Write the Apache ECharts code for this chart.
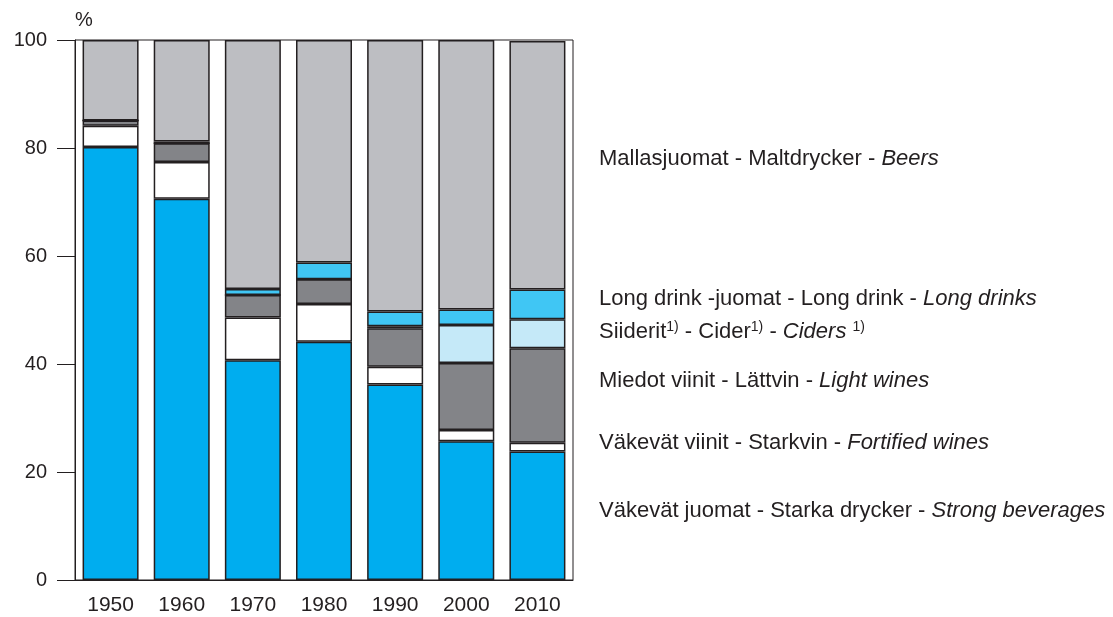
<!DOCTYPE html>
<html>
<head>
<meta charset="utf-8">
<script src="https://cdn.jsdelivr.net/npm/echarts@6/dist/echarts.min.js"></script>
<style>
html, body { margin: 0; padding: 0; background: #fff; }
#main { width: 1113px; height: 617px; }
</style>
</head>
<body>
<div id="main"></div>
<script>
var years = ['1950', '1960', '1970', '1980', '1990', '2000', '2010'];
var strong = [80.2, 70.6, 40.7, 44.1, 36.2, 25.7, 23.8];
var fortified = [3.9, 6.8, 7.9, 7.0, 3.3, 2.1, 1.6];
var lightWines = [1.0, 3.5, 4.2, 4.6, 7.1, 12.4, 17.5];
var ciders = [0, 0, 0, 0, 0.4, 7.0, 5.4];
var longDrinks = [0, 0.3, 1.1, 3.1, 2.7, 2.9, 5.5];
var beers = [14.9, 18.8, 46.1, 41.2, 50.3, 49.9, 46.0];
var yTicks = [0, 20, 40, 60, 80, 100];

var chart = echarts.init(document.getElementById('main'));

var font = 'Liberation Sans, Arial, Helvetica, sans-serif';
var edge = '#231F20';

function bar(name, data, color) {
    return {
        name: name,
        type: 'bar',
        stack: 'all',
        barWidth: 56,
        data: data,
        itemStyle: {
            color: color,
            borderColor: edge,
            borderWidth: 1.5
        }
    };
}

var labelStyle = {
    fontFamily: font,
    fontSize: 22,
    fill: '#231F20'
};
var rich = {
    i: { fontFamily: font, fontSize: 22, fontStyle: 'italic', color: '#231F20' },
    sup: { fontFamily: font, fontSize: 14, color: '#231F20', verticalAlign: 'top', padding: [0, 0, 9, 0] }
};

function legendText(y, text) {
    return {
        type: 'text',
        left: 599,
        top: y - 11,
        style: Object.assign({ text: text, rich: rich }, labelStyle)
    };
}

var option = {
    animation: false,
    grid: {
        left: 75,
        top: 40,
        right: 540,
        bottom: 37,
        show: true,
        borderColor: edge,
        borderWidth: 1
    },
    xAxis: {
        type: 'category',
        data: years,
        axisLine: { lineStyle: { color: edge, width: 1 } },
        axisTick: { show: false },
        axisLabel: { color: '#231F20', fontFamily: font, fontSize: 21, margin: 15 }
    },
    yAxis: {
        type: 'value',
        min: 0,
        max: 100,
        interval: 20,
        splitLine: { show: false },
        axisLine: { show: true, lineStyle: { color: edge, width: 1 } },
        axisTick: { show: true, length: 18, lineStyle: { color: edge, width: 1 } },
        axisLabel: {
            color: '#231F20', fontFamily: font, fontSize: 20, margin: 28,
            formatter: function (v) { return yTicks.indexOf(v) >= 0 ? String(v) : ''; }
        }
    },
    series: [
        bar('Strong beverages', strong, '#00ADEF'),
        bar('Fortified wines', fortified, '#FFFFFF'),
        bar('Light wines', lightWines, '#838488'),
        bar('Ciders', ciders, '#C5E9F8'),
        bar('Long drinks', longDrinks, '#40C6F4'),
        bar('Beers', beers, '#BDBEC2')
    ],
    graphic: [
        { type: 'text', left: 75, top: 10, style: { text: '%', fontFamily: font, fontSize: 20, fill: '#231F20' } },
        legendText(159, 'Mallasjuomat - Maltdrycker - {i|Beers}'),
        legendText(299, 'Long drink -juomat - Long drink - {i|Long drinks}'),
        legendText(331, 'Siiderit{sup|1)} - Cider{sup|1)} - {i|Ciders} {sup|1)}'),
        legendText(381, 'Miedot viinit - Lättvin - {i|Light wines}'),
        legendText(443, 'Väkevät viinit - Starkvin - {i|Fortified wines}'),
        legendText(511, 'Väkevät juomat - Starka drycker - {i|Strong beverages}')
    ]
};
chart.setOption(option);
</script>
</body>
</html>
